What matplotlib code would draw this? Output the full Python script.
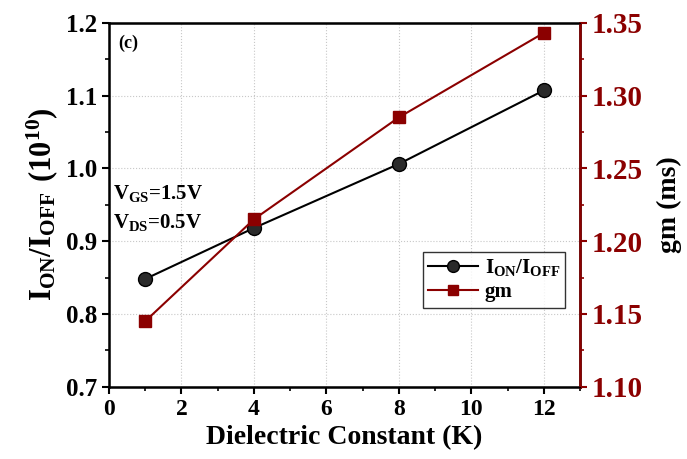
import numpy as np
import matplotlib.pyplot as plt
from matplotlib.ticker import MultipleLocator

# data
k_values = [1, 4, 8, 12]
on_off_ratio = [0.848, 0.918, 1.006, 1.107]
gm_values = [1.145, 1.215, 1.285, 1.343]

dark_red = "#8B0000"

plt.rcParams['font.family'] = ['Liberation Serif', 'DejaVu Serif']
plt.rcParams['font.weight'] = 'bold'
plt.rcParams['mathtext.fontset'] = 'custom'
plt.rcParams['mathtext.rm'] = 'Liberation Serif:bold'
plt.rcParams['mathtext.bf'] = 'Liberation Serif:bold'

fig = plt.figure(figsize=(6.87, 4.59), dpi=100)
ax = fig.add_axes([0.1587, 0.1575, 0.6856, 0.793])

l1, = ax.plot(k_values, on_off_ratio, color="black", lw=1.5, marker="o", ms=10,
              markerfacecolor="#2a2a2a", markeredgecolor="black", zorder=3)
ax.set_xlim(0, 13)
ax.set_ylim(0.7, 1.2)
ax.xaxis.set_major_locator(MultipleLocator(2))
ax.xaxis.set_minor_locator(MultipleLocator(1))
ax.yaxis.set_major_locator(MultipleLocator(0.1))
ax.yaxis.set_minor_locator(MultipleLocator(0.05))
ax.grid(True, which="major", ls=":", color="#c8c8c8", lw=0.8)
ax.tick_params(which="major", direction="out", length=5, width=1.5)
ax.tick_params(which="minor", direction="out", length=3, width=1.2)
ax.tick_params(axis="x", labelsize=17)
ax.tick_params(axis="y", labelsize=18)
for s in ax.spines.values():
    s.set_linewidth(1.8)
ax.set_xlabel("Dielectric Constant (K)", fontsize=20, fontweight="bold", labelpad=4)
ax.set_ylabel(r"$\mathrm{I_{ON}/I_{OFF}\ (10^{10})}$", fontsize=22, labelpad=4)

ax2 = ax.twinx()
l2, = ax2.plot(k_values, gm_values, color=dark_red, lw=1.5, marker="s", ms=8, zorder=3)
ax2.set_ylim(1.10, 1.35)
ax2.yaxis.set_major_locator(MultipleLocator(0.05))
ax2.yaxis.set_minor_locator(MultipleLocator(0.025))
ax2.yaxis.set_major_formatter(plt.FormatStrFormatter("%.2f"))
ax2.tick_params(axis="y", which="major", direction="out", length=5, width=1.5,
                labelsize=21, colors=dark_red)
ax2.tick_params(axis="y", which="minor", direction="out", length=3, width=1.2, colors=dark_red)
ax2.spines["right"].set_color(dark_red)
ax2.spines["right"].set_linewidth(1.8)
ax2.set_ylabel("gm (ms)", fontsize=20, fontweight="bold", labelpad=10)

ax.text(0.25, 1.172, "(c)", fontsize=13, fontweight="bold", va="center")
ax.text(0.12, 0.966, r"$\mathrm{V_{GS}}$=1.5V", fontsize=15, va="center")
ax.text(0.12, 0.925, r"$\mathrm{V_{DS}}$=0.5V", fontsize=15, va="center")

leg = ax2.legend([l1, l2], [r"$\mathrm{I_{ON}/I_{OFF}}$", "gm"], loc="upper left",
                 bbox_to_anchor=(0.667, 0.37), fontsize=15, frameon=True, fancybox=False,
                 edgecolor="black", handlelength=2.4, handletextpad=0.3, borderpad=0.25,
                 labelspacing=0.2, borderaxespad=0, markerscale=0.85)
leg.get_frame().set_linewidth(1.0)

fig.savefig("out.png", dpi=100)
